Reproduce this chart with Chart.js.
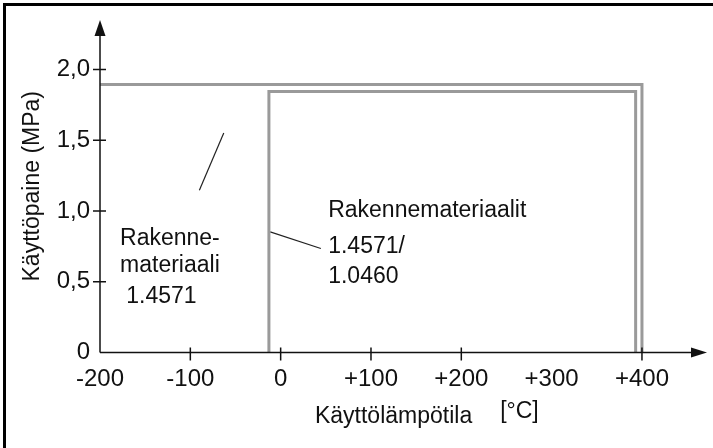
<!DOCTYPE html>
<html lang="fi">
<head>
  <meta charset="UTF-8">
  <title>Käyttöpaine ja käyttölämpötila</title>
  <script src="https://cdn.jsdelivr.net/npm/chart.js"></script>
  <style>
    body {
      margin: 0;
      background: white;
    }
    #wrap {
      width: 713px;
      height: 448px;
    }
  </style>
</head>
<body>

  <div id="wrap">
    <canvas id="kuva"></canvas>
  </div>

  <script>
    // Akselit
    const xTicks = [-200, -100, 0, 100, 200, 300, 400];
    const xTickLabels = ['-200', '-100', '0', '+100', '+200', '+300', '+400'];
    const yTicks = [0, 0.5, 1, 1.5, 2];
    const yTickLabels = ['0', '0,5', '1,0', '1,5', '2,0'];
    // vain nämä saavat viivan akselille
    const xTickMarks = [-100, 0, 100, 200, 400];
    const yTickMarks = [0.5, 1, 1.5, 2];

    // Rakennemateriaali 1.4571 (ulompi alue)
    const outerX = [-200, 400, 400];
    const outerY = [1.895, 1.895, 0];
    // Rakennemateriaalit 1.4571/1.0460 (sisempi alue)
    const innerX = [-13, -13, 393, 393];
    const innerY = [0, 1.845, 1.845, 0];

    // Osoitinviivat
    const leaderAX = [-90, -63];
    const leaderAY = [1.147, 1.551];
    const leaderBX = [-11.6, 44.5];
    const leaderBY = [0.853, 0.735];

    // Tekstit (datakoordinaateissa)
    const noteText = ['Rakenne-', 'materiaali', '1.4571', 'Rakennemateriaalit', '1.4571/', '1.0460'];
    const noteX = [-177.8, -177.8, -171, 52.6, 52.6, 52.6];
    const noteY = [0.759, 0.568, 0.349, 0.956, 0.702, 0.490];

    const fontFam = '"Liberation Sans", Arial, sans-serif';

    const line = (xs, ys, color, width) => ({
      data: xs.map((v, i) => ({ x: v, y: ys[i] })),
      showLine: true,
      borderColor: color,
      borderWidth: width,
      pointRadius: 0,
      tension: 0,
      clip: false
    });

    const piirto = {
      id: 'piirto',
      beforeDraw(chart) {
        const ctx = chart.ctx;
        ctx.save();
        ctx.fillStyle = 'white';
        ctx.fillRect(0, 0, chart.width, chart.height);
        ctx.restore();
      },
      afterDatasetsDraw(chart) {
        const { ctx, chartArea: a, scales: { x, y } } = chart;
        const x0 = x.getPixelForValue(-200);
        const y0 = y.getPixelForValue(0);
        ctx.save();
        ctx.strokeStyle = '#111';
        ctx.fillStyle = '#111';
        ctx.lineWidth = 1.5;

        // y-akseli + nuoli
        ctx.beginPath();
        ctx.moveTo(x0, y0);
        ctx.lineTo(x0, a.top + 15);
        ctx.stroke();
        ctx.beginPath();
        ctx.moveTo(x0, a.top);
        ctx.lineTo(x0 - 5.5, a.top + 16);
        ctx.lineTo(x0 + 5.5, a.top + 16);
        ctx.closePath();
        ctx.fill();

        // x-akseli + nuoli
        ctx.beginPath();
        ctx.moveTo(x0, y0);
        ctx.lineTo(a.right - 14, y0);
        ctx.stroke();
        ctx.beginPath();
        ctx.moveTo(a.right, y0);
        ctx.lineTo(a.right - 16, y0 - 5);
        ctx.lineTo(a.right - 16, y0 + 5);
        ctx.closePath();
        ctx.fill();

        // tick-viivat
        ctx.beginPath();
        yTickMarks.forEach(v => {
          const py = y.getPixelForValue(v);
          ctx.moveTo(x0 - 7, py);
          ctx.lineTo(x0 + 6, py);
        });
        xTickMarks.forEach(v => {
          const px = x.getPixelForValue(v);
          ctx.moveTo(px, y0 - 5);
          ctx.lineTo(px, y0 + 8);
        });
        ctx.stroke();

        // selitteet
        ctx.font = '23px ' + fontFam;
        ctx.textBaseline = 'alphabetic';
        ctx.textAlign = 'left';
        noteText.forEach((t, i) => {
          ctx.fillText(t, x.getPixelForValue(noteX[i]), y.getPixelForValue(noteY[i]));
        });

        // x-akselin nimi ja yksikkö
        ctx.textAlign = 'center';
        ctx.fillText('Käyttölämpötila', x.getPixelForValue(125), y.getPixelForValue(-0.4975));
        ctx.textAlign = 'left';
        ctx.fillText('[°C]', x.getPixelForValue(243), y.getPixelForValue(-0.462));

        // kehys
        ctx.strokeStyle = '#000';
        ctx.lineWidth = 3;
        ctx.beginPath();
        ctx.moveTo(4.5, chart.height);
        ctx.lineTo(4.5, 4.5);
        ctx.lineTo(chart.width, 4.5);
        ctx.stroke();
        ctx.restore();
      }
    };

    new Chart(document.getElementById('kuva'), {
      type: 'scatter',
      data: {
        datasets: [
          line(outerX, outerY, '#9a9a9a', 3),
          line(innerX, innerY, '#9a9a9a', 3),
          line(leaderAX, leaderAY, '#222', 1.2),
          line(leaderBX, leaderBY, '#222', 1.2)
        ]
      },
      options: {
        responsive: true,
        maintainAspectRatio: false,
        animation: false,
        layout: { padding: { top: 20, right: 6, left: 0, bottom: 0 } },
        plugins: {
          legend: { display: false },
          tooltip: { enabled: false }
        },
        scales: {
          x: {
            type: 'linear',
            min: -200,
            max: 472,
            afterBuildTicks: s => { s.ticks = xTicks.map(v => ({ value: v })); },
            afterFit: s => { s.height = 95.5; },
            grid: { display: false, tickLength: 8 },
            border: { display: false },
            ticks: {
              autoSkip: false,
              maxRotation: 0,
              padding: 4,
              color: '#111',
              font: { size: 24, family: fontFam },
              callback: v => xTickLabels[xTicks.indexOf(v)]
            }
          },
          y: {
            type: 'linear',
            min: 0,
            max: 2.35,
            afterBuildTicks: s => { s.ticks = yTicks.map(v => ({ value: v })); },
            afterFit: s => { s.width = 100; },
            grid: { display: false, tickLength: 7 },
            border: { display: false },
            title: {
              display: true,
              text: 'Käyttöpaine (MPa)',
              color: '#111',
              padding: { top: 19, bottom: 0 },
              font: { size: 23, family: fontFam }
            },
            ticks: {
              autoSkip: false,
              padding: 3,
              color: '#111',
              font: { size: 24, family: fontFam },
              callback: v => yTickLabels[yTicks.indexOf(v)]
            }
          }
        }
      },
      plugins: [piirto]
    });
  </script>

</body>
</html>
